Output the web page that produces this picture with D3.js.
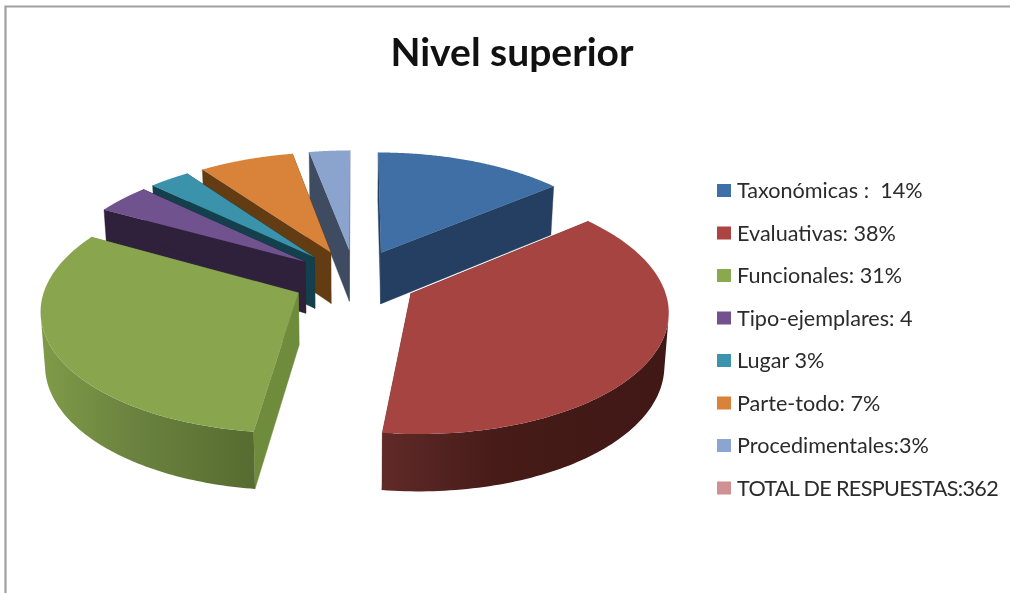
<!DOCTYPE html>
<html><head><meta charset="utf-8">
<script src="https://cdnjs.cloudflare.com/ajax/libs/d3/7.8.5/d3.min.js"></script>
<style>html,body{margin:0;padding:0;background:#fff}svg{display:block;filter:blur(0.5px)}</style>
</head><body><svg id="c" width="1010" height="593"></svg>
<script>
const chartTitle = "Nivel superior";
const categories = ["Taxonómicas :  14%","Evaluativas: 38%","Funcionales: 31%","Tipo-ejemplares: 4","Lugar 3%","Parte-todo: 7%","Procedimentales:3%","TOTAL DE RESPUESTAS:362"];
const values = [14,38,31,4,3,7,3];
const topColors = ["#3f6fa5","#a64442","#89a54e","#70528f","#3a92ab","#d9823a","#8ba4cd"];
const sideColors = ["#243f61","#5e2826","#6f8c3c","#2f213b","#143f4c","#643c13","#3e4b60"];
const wallStart = ["#243f61","#602a28","#7f9b48","#2f213b","#143f4c","#643c13","#3e4b60"];
const wallMid = ["#243f61","#461b18","#6c8440","#2f213b","#143f4c","#643c13","#3e4b60"];
const wallEnd = ["#243f61","#401815","#566c30","#2f213b","#143f4c","#643c13","#3e4b60"];
const legendColors = ["#3f6fa8","#ab4442","#8aa84f","#71528f","#3b93ad","#d9823a","#8aa5d0","#cf8f93"];
const drawOrder = [6,0,5,4,3,1,2];

const svg = d3.select("#c");
const cx=355, cy=279, R=251, T=119, K=0.125, D=52, EXPLODE=0.25;
function project(u,v,z){
  const s=1/(1-K*v);
  return [cx+u*R*s*(1-0.014*z), cy+v*T*s+z*D*Math.pow(s,0.65)];
}
const arcs = d3.pie().sort(null).value(d=>d)(values);
const line = d3.line();
const defs = svg.append("defs");

svg.append("path").attr("d","M5.5,593V6.5H1010").attr("fill","none").attr("stroke","#a0a0a0").attr("stroke-width",2.2);

const g = svg.append("g");
drawOrder.forEach(i=>{
  const a=arcs[i], mid=(a.startAngle+a.endAngle)/2;
  const ou=Math.sin(mid)*EXPLODE, ov=-Math.cos(mid)*EXPLODE;
  const P=(th,r,z)=>project(ou+Math.sin(th)*r, ov-Math.cos(th)*r, z);
  const steps=d3.range(0,121).map(k=>a.startAngle+(a.endAngle-a.startAngle)*k/120);
  [a.startAngle,a.endAngle].forEach(th=>{
    g.append("path").attr("d",line([P(th,0,0),P(th,1,0),P(th,1,1),P(th,0,1)])+"Z")
      .attr("fill",sideColors[i]).attr("stroke",sideColors[i]).attr("stroke-width",0.4);
  });
  const front=steps.filter(th=>Math.cos(th)<-0.2);
  if(front.length>1){
    const xs=front.map(th=>P(th,1,0)[0]);
    const id="w"+i;
    const gr=defs.append("linearGradient").attr("id",id).attr("gradientUnits","userSpaceOnUse")
      .attr("x1",d3.min(xs)).attr("x2",d3.max(xs)).attr("y1",0).attr("y2",0);
    gr.append("stop").attr("offset",0).attr("stop-color",wallStart[i]);
    gr.append("stop").attr("offset",0.4).attr("stop-color",wallMid[i]);
    gr.append("stop").attr("offset",1).attr("stop-color",wallEnd[i]);
    const pts=front.map(th=>P(th,1,0)).concat(front.slice().reverse().map(th=>P(th,1,1)));
    g.append("path").attr("d",line(pts)+"Z").attr("fill",`url(#${id})`);
  }
  const top=[P(0,0,0)].concat(steps.map(th=>P(th,1,0)));
  g.append("path").attr("d",line(top)+"Z").attr("fill",topColors[i]);
});

svg.append("text").text(chartTitle).attr("x",512).attr("y",66).attr("text-anchor","middle")
  .attr("font-family","Lato").attr("font-weight",700).attr("font-size",39).attr("fill","#111");

const ly=d3.scalePoint().domain(categories).range([190.5,488]);
const lg=svg.append("g").selectAll("g").data(categories).join("g").attr("transform",d=>`translate(717,${ly(d)})`);
lg.append("rect").attr("x",0).attr("y",-6.5).attr("width",14).attr("height",13).attr("fill",(d,i)=>legendColors[i]);
lg.append("text").text(d=>d).attr("x",20).attr("y",7.5).style("white-space","pre")
  .attr("font-family","Lato").attr("font-size",21.6).attr("fill","#2b2b2b")
  .attr("letter-spacing",(d,i)=>i===categories.length-1?-0.66:0);
</script></body></html>
